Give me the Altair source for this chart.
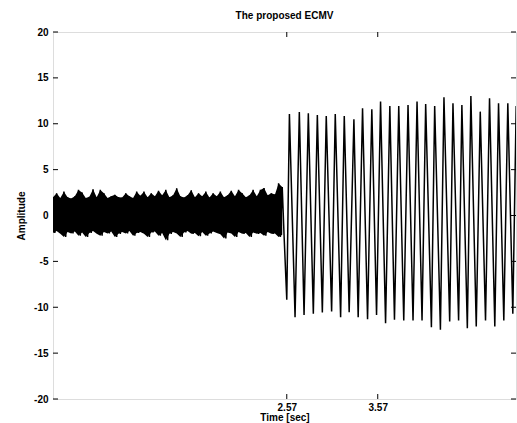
import altair as alt
import pandas as pd

# ---- data ----
title_text = "The proposed ECMV"
x_title = "Time [sec]"
y_title = "Amplitude"

x_tick_values = [2.57, 3.57]
y_tick_values = [-20, -15, -10, -5, 0, 5, 10, 15, 20]

# noise segment (0 .. 2.56 s): alternating upper / lower excursions, one pair every 0.04 s
noise_step = 0.02
noise_upper = [2.0, 2.43, 1.9, 2.6, 2.0, 1.85, 2.1, 2.79, 2.5, 1.9, 2.05, 2.85, 2.0, 2.79, 2.43, 1.9,
               2.1, 2.25, 2.0, 1.95, 2.43, 2.1, 1.9, 2.6, 2.15, 2.6, 2.0, 2.43, 2.1, 2.7, 2.2, 2.79,
               2.0, 2.2, 2.97, 2.1, 1.95, 2.2, 2.75, 2.0, 2.43, 2.1, 2.6, 1.95, 2.43, 2.1, 2.6, 2.0,
               2.2, 2.7, 2.1, 2.79, 2.43, 2.0, 2.2, 2.79, 2.1, 2.79, 3.0, 2.2, 2.43, 2.3, 3.5, 3.1]
noise_lower = [-1.9, -1.7, -2.0, -2.33, -1.8, -1.95, -1.75, -2.2, -1.85, -2.33, -1.9, -1.7, -2.0, -2.2, -1.8, -1.95,
               -1.75, -2.33, -2.0, -1.8, -1.95, -1.7, -2.2, -1.9, -1.8, -2.0, -2.33, -1.85, -1.75, -2.2, -1.9, -2.69,
               -2.0, -1.8, -1.95, -2.33, -1.85, -1.7, -2.0, -1.9, -2.25, -1.8, -2.2, -1.95, -1.75, -1.9, -2.05, -2.5,
               -1.85, -1.95, -2.33, -1.8, -2.0, -1.9, -2.33, -1.85, -2.0, -1.9, -2.2, -1.8, -2.0, -1.95, -2.33, -2.1]

# oscillation segment (from 2.57 s): trough / peak times and values
trough_t = [2.57, 2.661, 2.760, 2.862, 2.961, 3.063, 3.162, 3.256, 3.355, 3.458, 3.557, 3.656, 3.754,
            3.856, 3.958, 4.057, 4.160, 4.259, 4.361, 4.459, 4.555, 4.653, 4.755, 4.857, 4.956, 5.055]
trough_v = [-9.19, -11.08, -10.83, -10.72, -10.58, -10.47, -11.08, -10.54, -11.08, -11.3, -10.83, -11.73, -11.37,
            -11.45, -11.45, -11.45, -12.17, -12.46, -11.56, -11.45, -12.28, -12.1, -11.45, -12.1, -11.45, -10.7]
peak_t = [2.599, 2.708, 2.807, 2.906, 3.004, 3.103, 3.202, 3.308, 3.403, 3.505, 3.601, 3.703, 3.801,
          3.903, 4.002, 4.097, 4.196, 4.298, 4.397, 4.495, 4.594, 4.697, 4.799, 4.898, 5.000, 5.092]
peak_v = [11.07, 11.28, 11.14, 10.96, 10.85, 11.07, 10.85, 10.49, 11.69, 11.58, 12.41, 11.94, 11.94,
          12.05, 12.41, 12.16, 11.94, 12.89, 12.23, 12.05, 13.03, 11.32, 12.78, 12.23, 12.23, 11.94]

x_domain = [0, 5.09]
y_domain = [-20, 20]

# ---- build the tables ----
rows = []
for i, (u, l) in enumerate(zip(noise_upper, noise_lower)):
    rows.append({"t": (2 * i) * noise_step, "v": u})
    rows.append({"t": (2 * i + 1) * noise_step, "v": l})
for tt, tv, pt, pv in zip(trough_t, trough_v, peak_t, peak_v):
    rows.append({"t": tt, "v": tv})
    rows.append({"t": pt, "v": pv})
signal = pd.DataFrame(rows)
signal["i"] = range(len(signal))

band = pd.DataFrame({
    "t": [(2 * i) * noise_step for i in range(len(noise_upper))],
    "v": noise_upper,
    "v2": noise_lower,
})

W, H = 463, 367
FONT = "Liberation Sans"

x_scale = alt.Scale(domain=x_domain, nice=False, zero=False)
y_scale = alt.Scale(domain=y_domain, nice=False)

x_axis = alt.Axis(values=x_tick_values, format=".2f", title=x_title, ticks=False, domain=False,
                  grid=False, labelPadding=3, labelFont=FONT, titleFont=FONT,
                  labelFontSize=10, titleFontSize=10, labelFontWeight="bold", titleFontWeight="bold",
                  labelColor="black", titleColor="black", titleY=21, titleBaseline="alphabetic",
                  titleX=W / 2, titleAlign="center")
y_axis = alt.Axis(values=y_tick_values, labelExpr="datum.value + ''", title=y_title, ticks=False,
                  domain=False, grid=False, labelPadding=5, labelFont=FONT, titleFont=FONT,
                  labelFontSize=10, titleFontSize=10, labelFontWeight="bold", titleFontWeight="bold",
                  labelColor="black", titleColor="black", titleX=-32, titleY=H / 2,
                  titleAngle=270, titleBaseline="middle", titleAlign="center")

line = alt.Chart(signal).mark_line(color="black", strokeWidth=1.5, clip=True).encode(
    x=alt.X("t:Q", scale=x_scale, axis=x_axis, title=x_title),
    y=alt.Y("v:Q", scale=y_scale, axis=y_axis, title=y_title),
    order="i:Q",
)

area = alt.Chart(band).mark_area(color="black", opacity=1, clip=True).encode(
    x=alt.X("t:Q", scale=x_scale, axis=x_axis, title=x_title),
    y=alt.Y("v:Q", scale=y_scale, axis=y_axis, title=y_title),
    y2="v2:Q",
)

ytk = pd.DataFrame({"v": y_tick_values})
xtk = pd.DataFrame({"t": x_tick_values})

left_ticks = alt.Chart(ytk).mark_rule(color="black", strokeWidth=1).encode(
    y=alt.Y("v:Q", scale=y_scale, axis=y_axis, title=y_title), x=alt.value(0), x2=alt.value(5))
right_ticks = alt.Chart(ytk).mark_rule(color="black", strokeWidth=1).encode(
    y=alt.Y("v:Q", scale=y_scale, axis=y_axis, title=y_title), x=alt.value(W - 5), x2=alt.value(W))
bottom_ticks = alt.Chart(xtk).mark_rule(color="black", strokeWidth=1).encode(
    x=alt.X("t:Q", scale=x_scale, axis=x_axis, title=x_title), y=alt.value(H), y2=alt.value(H - 5))
top_ticks = alt.Chart(xtk).mark_rule(color="black", strokeWidth=1).encode(
    x=alt.X("t:Q", scale=x_scale, axis=x_axis, title=x_title), y=alt.value(0), y2=alt.value(5))

chart = alt.layer(area, line, left_ticks, right_ticks, bottom_ticks, top_ticks).properties(
    width=W, height=H,
    padding={"left": 53, "top": 32, "right": 1, "bottom": 24},
    autosize=alt.AutoSizeParams(type="none"),
    title=alt.TitleParams(title_text, font=FONT, fontSize=10, fontWeight="bold", color="black",
                          offset=6, anchor="middle"),
).configure_view(stroke="black", strokeWidth=1).configure(background="white")

chart.save("out.html", embed_options={"renderer": "svg", "actions": False})
